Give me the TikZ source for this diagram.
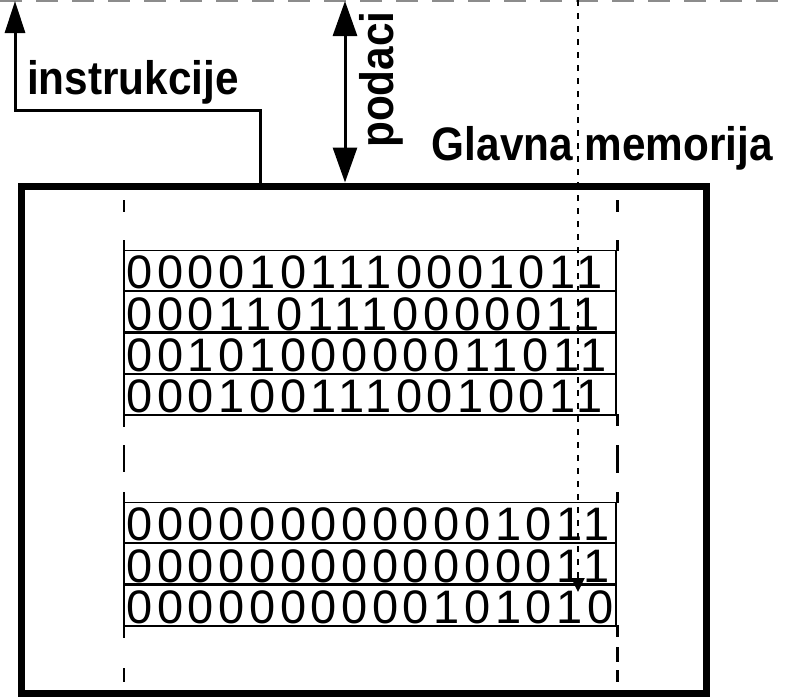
\documentclass[tikz,border=0pt]{standalone}
\usepackage{fontspec}
\usetikzlibrary{arrows.meta}
\newfontfamily\labelfont{Liberation Sans}[FakeStretch=0.9]
\newfontfamily\bitfont{Liberation Sans}[LetterSpace=9.8]
\colorlet{cpuedge}{black!45}
\tikzset{
    bus/.style={line width=3pt},
    lbl/.style={font=\labelfont\bfseries\fontsize{47}{47}\selectfont,inner sep=0pt},
    word/.style={font=\bitfont\fontsize{47}{47}\selectfont,inner sep=0pt,anchor=base west,
        text height=34pt,text depth=0pt},
    rail/.style={line width=1.3pt},
    stub/.style={line width=3pt}
}

\begin{document}
\begin{tikzpicture}[x=1pt,y=-1pt]
        \useasboundingbox (0,0) rectangle (788,697);
        \draw [cpuedge,line width=2pt,dash pattern=on 22pt off 14pt] (0,1) -- (788,1);
        \node [draw,line width=7pt,minimum width=685pt,minimum height=507pt,inner sep=0pt] (mem) at (363.5,439.5) {};
        \node [lbl,anchor=base east] (memname) at (773,160) {Glavna memorija};
        \coordinate (cpui) at (15,1);
        \coordinate (cpud) at (345,1);
        \coordinate (bend) at (260,110);
        \draw [bus,-{Triangle[length=32pt,width=20pt]}] (bend |- mem.north) -- (bend) -| (cpui);
        \node [lbl,anchor=base west] (instr) at (27,94) {instrukcije};
        \draw [bus,{Triangle[length=35pt,width=24pt]}-{Triangle[length=35pt,width=24pt]}] (cpud) -- (cpud |- mem.north);
        \node [lbl,rotate=90,anchor=base west] (data) at (393,148) {podaci};
        \foreach \ya/\nrows in {250/4,502/3} {
            \pgfmathsetmacro\yb{\ya+41.25*\nrows}
            \draw [line width=1pt] (124,\ya) -- (616,\ya);
            \foreach \k in {1,...,\nrows} {
                \draw [line width=2.2pt] (124,{\ya+41.25*\k}) -- (616,{\ya+41.25*\k});
            }
            \draw [rail] (124,\ya-10) -- (124,\yb+12);
            \draw [rail] (616,\ya) -- (616,\yb);
            \draw [stub] (617,\ya-10) -- (617,\ya+1) (617,\yb-1) -- (617,\yb+11);
        }
        \foreach \bits [count=\r] in {0000101110001011,0001101110000011,0010100000011011,0001001110010011} {
            \node [word] (up\r) at (126.2,{250+41.25*\r-2.5}) {\bits};
        }
        \foreach \bits [count=\r] in {0000000000001011,0000000000000011,0000000000101010} {
            \node [word] (lo\r) at (126.2,{502+41.25*\r-2.5}) {\bits};
        }
        \foreach \ya/\yb in {200/212,445/472,668/682} {
            \draw [rail] (124,\ya) -- (124,\yb);
        }
        \foreach \ya/\yb in {200/212,445/473,647/662,670/682} {
            \draw [stub] (617,\ya) -- (617,\yb);
        }
        \coordinate (ptrtop) at (578,0);
        \coordinate (ptr) at (578,592);
        \draw [line width=1.8pt,dash pattern=on 6pt off 7pt,-{Triangle[length=14pt,width=13pt]}] (ptrtop) -- (ptr);
    \end{tikzpicture}
\end{document}
